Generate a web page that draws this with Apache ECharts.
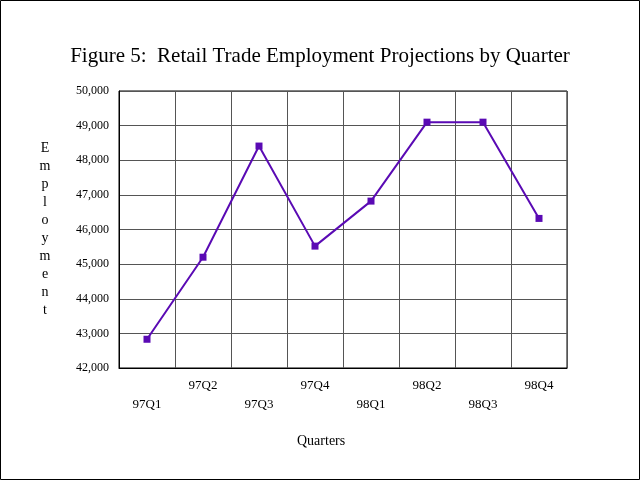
<!DOCTYPE html>
<html><head><meta charset="utf-8">
<script src="https://cdn.jsdelivr.net/npm/echarts@6/dist/echarts.min.js"></script>
<style>html,body{margin:0;padding:0;background:#fff}#c{width:640px;height:480px}</style>
</head><body><div id="c"></div>
<script>
const quarters = ['97Q1','97Q2','97Q3','97Q4','98Q1','98Q2','98Q3','98Q4'];
const employment = [42830, 45200, 48410, 45520, 46820, 49100, 49100, 46320];
const yTicks = {min: 42000, max: 50000, interval: 1000};
const titleText = 'Figure 5:  Retail Trade Employment Projections by Quarter';
const yName = 'Employment';
const xName = 'Quarters';

const serif = '"Liberation Serif", "DejaVu Serif", serif';
const chart = echarts.init(document.getElementById('c'), null, {renderer: 'canvas'});
chart.setOption({
  backgroundColor: '#fff',
  animation: false,
  title: {
    text: titleText, left: 'center', top: 41,
    textStyle: {fontFamily: serif, fontSize: 21, fontWeight: 'normal', color: '#000'}
  },
  grid: {left: 119, right: 73, top: 91, bottom: 112, show: true, borderColor: '#000', borderWidth: 1, backgroundColor: 'transparent'},
  xAxis: {
    type: 'category', data: quarters, boundaryGap: true,
    axisLine: {show: true, lineStyle: {color: '#000'}},
    axisTick: {show: false},
    splitLine: {show: true, interval: 0, lineStyle: {color: '#555', width: 1}},
    axisLabel: {
      interval: 0, fontFamily: serif, fontSize: 13, color: '#000', margin: 8, lineHeight: 19,
      formatter: (v, i) => (i % 2 === 0 ? '\n' + v : v + '\n')
    }
  },
  yAxis: {
    type: 'value', min: yTicks.min, max: yTicks.max, interval: yTicks.interval,
    axisLine: {show: true, lineStyle: {color: '#000'}},
    axisTick: {show: false},
    splitLine: {show: true, lineStyle: {color: '#555', width: 1}},
    axisLabel: {
      fontFamily: serif, fontSize: 12, color: '#000', margin: 10,
      formatter: v => v.toLocaleString('en-US')
    },
    name: yName.split('').join('\n'),
    nameLocation: 'middle', nameRotate: 0, nameGap: 74,
    nameTextStyle: {fontFamily: serif, fontSize: 14, color: '#000', lineHeight: 18, align: 'center', verticalAlign: 'middle'}
  },
  graphic: [
    {type: 'rect', shape: {x: 0.5, y: 0.5, width: 639, height: 479}, style: {fill: 'none', stroke: '#000', lineWidth: 1}, silent: true},
    {type: 'text', left: 297, top: 434, style: {text: xName, fontFamily: serif, fontSize: 14, fill: '#000'}}
  ],
  series: [{
    type: 'line', data: employment,
    symbol: 'rect', symbolSize: 7,
    lineStyle: {color: '#5a0ab4', width: 2},
    itemStyle: {color: '#5a0ab4'}
  }]
});
</script></body></html>
